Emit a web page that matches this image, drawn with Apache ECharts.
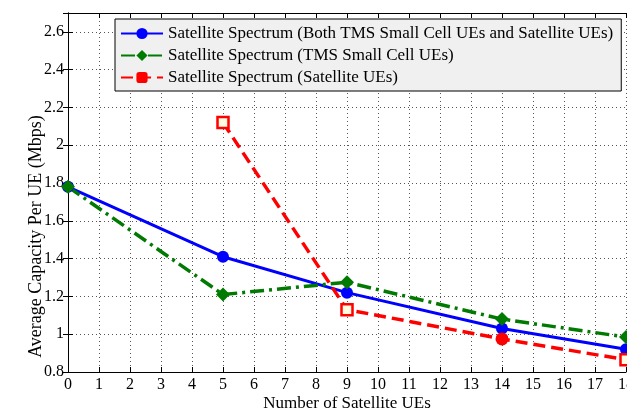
<!DOCTYPE html>
<html><head><meta charset="utf-8">
<script src="https://cdn.jsdelivr.net/npm/echarts@6/dist/echarts.min.js"></script>
<style>html,body{margin:0;padding:0;background:#fff}#c{width:627px;height:412px}</style>
</head><body><div id="c"></div>
<script>
const xValues = [0, 5, 9, 14, 18];
const bothValues = [1.78, 1.41, 1.22, 1.03, 0.92];
const tmsValues = [1.78, 1.21, 1.275, 1.08, 0.985];
const satValues = [null, 2.12, 1.13, 0.975, 0.865];
const satFilled = [false, false, false, true, false];
const seriesNames = [
  'Satellite Spectrum (Both TMS Small Cell UEs and Satellite UEs)',
  'Satellite Spectrum (TMS Small Cell UEs)',
  'Satellite Spectrum (Satellite UEs)'
];
const font = 'Liberation Serif, Times New Roman, serif';
const chart = echarts.init(document.getElementById('c'));
const pairs = vals => xValues.map((x, i) => [x, vals[i]]);
const satData = xValues.map((x, i) => satValues[i] == null ? null : {
  value: [x, satValues[i]],
  symbol: satFilled[i] ? 'circle' : 'rect',
  symbolSize: satFilled[i] ? 13 : 11,
  itemStyle: satFilled[i] ? {color: '#ff0000'} : {color: '#fffbe0', borderColor: '#ff0000', borderWidth: 2.5}
}).filter(d => d);
const axisCommon = {
  axisLine: {show: true, lineStyle: {color: '#000', width: 1}},
  axisTick: {show: true, inside: true, length: 5, lineStyle: {color: '#000'}},
};
chart.setOption({
  animation: false,
  backgroundColor: '#fff',
  grid: {left: 68, right: 1, top: 13, bottom: 40, containLabel: false, outerBoundsMode: 'none'},
  legend: {
    orient: 'vertical', left: 115, top: 19,
    backgroundColor: '#f0f0f0', borderColor: '#000', borderWidth: 1,
    padding: [6, 8, 5, 5],
    itemWidth: 42, itemHeight: 14, itemGap: 5,
    textStyle: {fontFamily: font, fontSize: 17, color: '#000'},
    data: seriesNames
  },
  xAxis: [
    Object.assign({
      type: 'value', min: 0, max: 18, interval: 1,
      name: 'Number of Satellite UEs', nameLocation: 'middle', nameGap: 23, nameMoveOverlap: false,
      nameTextStyle: {fontFamily: font, fontSize: 17, color: '#000'},
      axisLabel: {fontFamily: font, fontSize: 16, color: '#000', margin: 5},
      splitLine: {show: true, lineStyle: {color: '#555', type: [1, 3], width: 1}}
    }, axisCommon),
    Object.assign({
      type: 'value', min: 0, max: 18, interval: 1, position: 'top',
      axisLabel: {show: false}, splitLine: {show: false}
    }, axisCommon)
  ],
  yAxis: [
    Object.assign({
      type: 'value', min: 0.8, max: 2.7, interval: 0.2,
      name: 'Average Capacity Per UE (Mbps)', nameLocation: 'middle', nameGap: 23, nameMoveOverlap: false,
      nameTextStyle: {fontFamily: font, fontSize: 18, color: '#000', padding: [0, 88, 0, 0]},
      axisLabel: {fontFamily: font, fontSize: 16, color: '#000', margin: 4,
        formatter: v => Math.abs(v - 2.7) < 1e-6 ? '' : String(+v.toFixed(1))},
      splitLine: {show: true, lineStyle: {color: '#555', type: [1, 3], width: 1}}
    }, axisCommon),
    Object.assign({
      type: 'value', min: 0.8, max: 2.7, interval: 0.2, position: 'right',
      axisLabel: {show: false}, splitLine: {show: false}
    }, axisCommon)
  ],
  series: [
    {name: seriesNames[0], type: 'line', data: pairs(bothValues), symbol: 'circle', symbolSize: 12,
      lineStyle: {color: '#0000ff', width: 3}, itemStyle: {color: '#0000ff'}},
    {name: seriesNames[1], type: 'line', data: pairs(tmsValues), symbol: 'diamond', symbolSize: 14,
      lineStyle: {color: '#007a00', width: 3.5, type: [14, 5, 3, 5]}, itemStyle: {color: '#007a00'}},
    {name: seriesNames[2], type: 'line', data: satData, symbol: 'roundRect', symbolSize: 12,
      lineStyle: {color: '#ff0000', width: 3.5, type: [12, 6]}, itemStyle: {color: '#ff0000'}}
  ]
});
</script></body></html>
